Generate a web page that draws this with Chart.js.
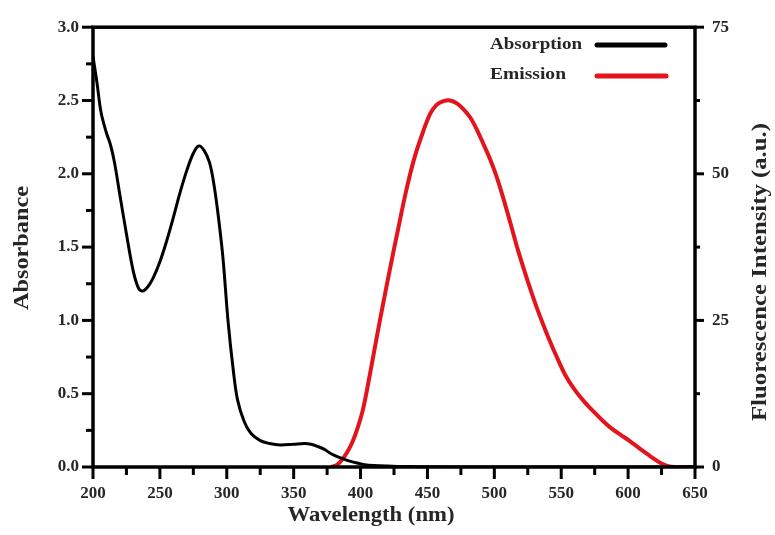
<!DOCTYPE html>
<html>
<head>
<meta charset="utf-8">
<script src="https://cdn.jsdelivr.net/npm/chart.js@4.4.1/dist/chart.umd.min.js"></script>
<style>
  html, body { margin: 0; padding: 0; background: #fff; }
  canvas { display: block; }
</style>
</head>
<body>
<canvas id="chart" width="775" height="535"></canvas>
<script>
// Absorption spectrum (left axis, absorbance)
const absWl  = [200, 203, 206, 210, 213, 216, 220, 225, 230, 234, 237, 241, 245, 250, 255, 260, 265, 270, 275, 279, 283, 287, 290, 293, 297, 301, 305, 308, 313, 318, 325, 332, 340, 350, 358, 363, 368, 373, 378, 384, 390, 396, 402, 410, 420, 435, 450, 500, 550, 600, 650]
const absVal = [2.80, 2.62, 2.42, 2.28, 2.20, 2.08, 1.86, 1.59, 1.34, 1.22, 1.20, 1.23, 1.29, 1.40, 1.54, 1.70, 1.87, 2.02, 2.14, 2.19, 2.16, 2.08, 1.95, 1.76, 1.44, 0.99, 0.65, 0.46, 0.31, 0.23, 0.18, 0.16, 0.15, 0.155, 0.16, 0.155, 0.14, 0.12, 0.09, 0.065, 0.045, 0.03, 0.018, 0.01, 0.006, 0.003, 0.002, 0, 0, 0, 0]

// Emission spectrum (right axis, fluorescence intensity)
const emWl  = [378, 382, 386, 390, 394, 398, 402, 407, 412, 417, 422, 428, 434, 440, 446, 452, 457, 462, 467, 472, 477, 482, 487, 492, 497, 502, 507, 512, 517, 522, 527, 532, 537, 542, 547, 553, 560, 567, 574, 581, 588, 595, 602, 609, 615, 620, 625, 630, 636, 642, 650]
const emVal = [0, 0.3, 1.2, 2.5, 4.3, 6.8, 10, 15.8, 22, 28, 33.8, 40.5, 47, 52.5, 56.7, 60.2, 61.8, 62.4, 62.5, 62.0, 61.0, 59.6, 57.5, 55, 52.4, 49.3, 45.6, 41.6, 37.5, 33.8, 30.3, 27, 24, 21.2, 18.6, 15.7, 13.2, 11.2, 9.5, 7.9, 6.5, 5.4, 4.3, 3.1, 2.1, 1.3, 0.6, 0.15, 0, 0, 0]

// tick positions
const xTicks      = [200, 250, 300, 350, 400, 450, 500, 550, 600, 650]
const xMinor      = [225, 275, 325, 375, 425, 475, 525, 575, 625]
const absTicks    = [0, 0.5, 1.0, 1.5, 2.0, 2.5, 3.0]
const absMinor    = [0.25, 0.75, 1.25, 1.75, 2.25, 2.75]
const emTicks     = [0, 25, 50, 75]
const emMinor     = [12.5, 37.5, 62.5]

const serif = '"Liberation Serif", "DejaVu Serif", serif'
const tickFont = { family: serif, size: 17, weight: 'bold' }
const textColor = '#262626'

// draws bold text squeezed/stretched to the width it has in the picture
function fitText(ctx, text, x, y, w, size, rot, align) {
  ctx.save()
  ctx.translate(x, y)
  if (rot) ctx.rotate(rot)
  ctx.font = `bold ${size}px ${serif}`
  ctx.scale(w / ctx.measureText(text).width, 1)
  ctx.textAlign = align || 'center'
  ctx.textBaseline = 'middle'
  ctx.fillStyle = textColor
  ctx.fillText(text, 0, 0)
  ctx.restore()
}

const frame = {
  id: 'frame',
  afterDraw(chart) {
    const { ctx, chartArea: a, scales } = chart
    ctx.save()
    ctx.strokeStyle = '#000'
    ctx.lineWidth = 3.5
    ctx.strokeRect(a.left, a.top, a.right - a.left, a.bottom - a.top)

    ctx.lineWidth = 3
    const tick = (x1, y1, x2, y2) => { ctx.beginPath(); ctx.moveTo(x1, y1); ctx.lineTo(x2, y2); ctx.stroke() }
    xTicks.forEach(v => { const p = scales.x.getPixelForValue(v); tick(p, a.bottom, p, a.bottom + 12) })
    xMinor.forEach(v => { const p = scales.x.getPixelForValue(v); tick(p, a.bottom, p, a.bottom + 8) })
    absTicks.forEach(v => { const p = scales.y.getPixelForValue(v); tick(a.left - 11, p, a.left, p) })
    absMinor.forEach(v => { const p = scales.y.getPixelForValue(v); tick(a.left - 7, p, a.left, p) })
    emTicks.forEach(v => { const p = scales.y1.getPixelForValue(v); tick(a.right, p, a.right + 9, p) })
    emMinor.forEach(v => { const p = scales.y1.getPixelForValue(v); tick(a.right, p, a.right + 5, p) })

    // legend
    ctx.lineWidth = 5
    ctx.lineCap = 'round'
    ctx.strokeStyle = chart.data.datasets[0].borderColor
    tick(597, 45, 665, 45)
    ctx.strokeStyle = chart.data.datasets[1].borderColor
    tick(597, 76, 666, 76)
    ctx.restore()

    fitText(ctx, chart.data.datasets[0].label, 490, 45, 92, 17, 0, 'left')
    fitText(ctx, chart.data.datasets[1].label, 490, 75, 76, 17, 0, 'left')

    // axis titles
    fitText(ctx, 'Absorbance', 23, 248, 124, 21, -Math.PI / 2)
    fitText(ctx, 'Fluorescence Intensity (a.u.)', 761, 272, 298, 20, -Math.PI / 2)
    fitText(ctx, 'Wavelength (nm)', 371, 516, 167, 21, 0)
  }
}

const points = (xs, ys) => xs.map((x, i) => ({ x, y: ys[i] }))

new Chart(document.getElementById('chart'), {
  type: 'line',
  data: {
    datasets: [
      {
        label: 'Absorption',
        data: points(absWl, absVal),
        yAxisID: 'y',
        borderColor: '#000',
        borderWidth: 3,
        pointRadius: 0,
        tension: 0.35
      },
      {
        label: 'Emission',
        data: points(emWl, emVal),
        yAxisID: 'y1',
        borderColor: '#e3141b',
        borderWidth: 4,
        pointRadius: 0,
        tension: 0.35
      }
    ]
  },
  options: {
    responsive: false,
    animation: false,
    devicePixelRatio: 1,
    layout: { padding: { top: 22, left: 0, right: 0, bottom: 0 } },
    plugins: { legend: { display: false }, tooltip: { enabled: false } },
    scales: {
      x: {
        type: 'linear', min: 200, max: 650,
        afterBuildTicks: s => { s.ticks = xTicks.map(value => ({ value })) },
        afterFit: s => { s.height = 68 },
        grid: { display: false, drawTicks: false },
        border: { display: false },
        ticks: { font: tickFont, color: textColor, padding: 16, maxRotation: 0 }
      },
      y: {
        position: 'left', min: 0, max: 3,
        afterBuildTicks: s => { s.ticks = absTicks.map(value => ({ value })) },
        afterFit: s => { s.width = 93 },
        grid: { display: false, drawTicks: false },
        border: { display: false },
        ticks: { font: tickFont, color: textColor, padding: 14, callback: v => v.toFixed(1) }
      },
      y1: {
        position: 'right', min: 0, max: 75,
        afterBuildTicks: s => { s.ticks = emTicks.map(value => ({ value })) },
        afterFit: s => { s.width = 80 },
        grid: { display: false, drawTicks: false },
        border: { display: false },
        ticks: { font: tickFont, color: textColor, padding: 17 }
      }
    }
  },
  plugins: [frame]
})
</script>
</body>
</html>
